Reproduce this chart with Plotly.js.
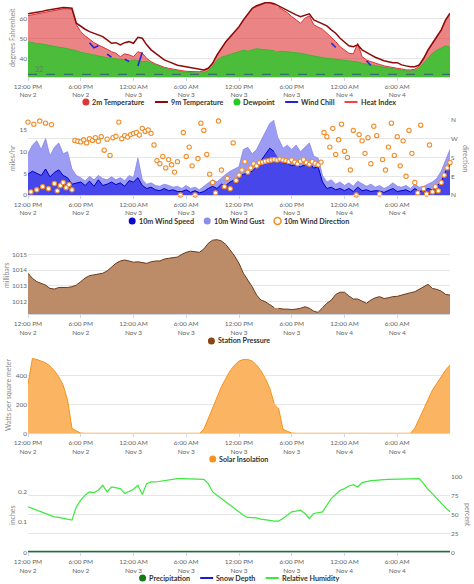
<!DOCTYPE html>
<html>
<head>
<meta charset="utf-8">
<script src="https://cdn.plot.ly/plotly-3.0.1.min.js"></script>
<style>
  html, body { margin: 0; padding: 0; background: #fff; }
  #chart { width: 474px; height: 584px; }
</style>
</head>
<body>
<div id="chart"></div>
<script>
// ---------------- Station observations, Nov 2 12:00 PM -> Nov 4 12:00 PM ----------------
// Half-hourly series (97 samples, one every 30 minutes)
const temp2m = [61.3,61.7,62.2,62.5,63.0,63.5,63.8,64.3,64.7,64.7,
  64.5,56.7,53.3,51.2,49.5,47.8,46.7,45.8,44.5,43.3,
  42.5,40.8,42.2,41.7,40.8,43.3,42.5,40.0,38.3,37.2,
  36.2,35.5,35.0,34.5,34.2,33.8,33.5,33.3,33.3,33.3,
  33.8,35.0,37.5,41.3,44.7,48.0,50.5,53.0,55.5,58.8,
  61.8,64.7,65.8,66.8,67.5,67.5,66.8,65.5,64.2,62.8,
  60.8,59.2,57.5,60.0,61.2,56.7,55.5,54.5,52.5,50.5,
  48.3,45.8,44.2,42.5,42.2,47.5,40.8,39.2,38.3,37.5,
  36.7,36.2,35.8,35.3,35.0,34.7,34.2,34.2,34.5,36.2,
  39.5,43.8,47.2,50.5,53.8,58.8,62.0];

const temp9m = [62.2,62.5,62.8,63.3,63.8,64.2,64.7,65.0,65.3,65.2,
  65.0,57.5,55.8,54.5,53.3,52.5,51.7,50.8,49.2,47.5,
  47.8,46.7,47.8,48.3,47.5,50.5,50.0,46.7,44.2,42.5,
  40.5,39.2,38.3,37.2,36.5,36.2,35.8,35.5,35.2,34.7,
  34.2,35.0,37.5,41.7,45.0,48.3,50.8,53.3,55.8,59.2,
  62.2,65.0,66.2,67.2,67.8,67.8,67.2,66.2,65.0,64.2,
  62.8,61.7,60.8,61.7,62.2,59.2,58.3,57.5,56.2,54.2,
  52.5,50.0,48.3,46.2,45.8,46.7,44.2,42.8,41.7,40.5,
  39.5,38.8,38.3,37.8,37.8,36.7,36.2,35.8,35.8,36.7,
  40.0,44.2,47.5,50.8,54.2,59.2,62.5];

const dewpoint = [48.3,47.8,47.3,47.2,46.7,46.3,46.0,45.5,45.2,44.8,
  44.5,43.8,43.0,42.5,42.0,41.5,41.0,40.8,40.3,40.0,
  39.7,39.3,39.2,38.5,39.2,38.8,38.3,38.5,37.6,36.6,
  35.7,35.0,34.5,34.0,33.6,33.3,33.0,32.8,32.7,32.6,
  32.8,33.8,36.0,39.0,40.5,41.2,42.0,42.8,43.5,44.0,
  43.5,44.2,44.8,44.5,44.3,44.0,43.8,43.5,43.5,43.3,
  43.0,42.8,42.5,42.0,41.5,41.0,40.8,40.3,40.0,39.7,
  39.5,39.2,39.0,38.7,38.5,38.2,37.5,37.0,36.7,36.3,
  35.9,35.5,35.1,34.7,34.4,34.1,33.7,33.6,33.8,35.0,
  37.5,40.5,42.5,44.0,45.3,46.2,45.5];

const windChill = [null,null,null,null,null,null,null,null,null,null,
  null,null,null,null,47.8,45.2,46.3,null,42.0,40.6,
  null,null,39.6,38.4,null,36.2,43.0,null,null,null,
  null,null,null,null,null,null,null,null,null,null,
  null,null,null,null,null,null,null,null,null,null,
  null,null,null,null,null,null,null,null,null,null,
  null,null,null,null,null,null,null,null,null,47.6,
  45.4,null,null,null,null,null,null,38.8,36.4,null,
  null,null,null,null,null,null,null,null,null,null,
  null,null,null,null,null,null,null];

const heatIndex = [];

const windGust = [9.5,11.5,12.5,10.5,13.0,9.0,11.0,12.0,9.5,10.0,
  6.0,4.5,4.0,3.2,4.3,3.5,4.5,3.8,3.5,4.2,
  3.5,4.0,3.3,4.5,4.0,8.5,3.5,2.5,2.8,2.2,
  2.0,2.5,2.2,1.8,2.0,1.5,2.2,1.5,1.8,1.2,
  2.0,2.8,3.5,3.0,4.0,4.8,5.5,6.0,6.5,10.5,
  11.0,9.5,10.5,12.5,14.5,16.5,17.3,13.0,10.8,11.5,
  10.5,11.5,10.0,11.0,12.0,9.0,8.5,4.5,3.0,3.5,
  2.5,3.0,2.2,2.8,2.0,3.2,2.5,2.0,2.5,1.8,
  2.2,1.5,2.0,2.8,2.0,1.8,2.2,1.5,2.5,1.8,
  2.0,2.5,3.0,3.8,5.5,8.0,10.5];

const windSpeed = [4.8,5.5,5.0,4.5,6.0,4.2,5.2,5.8,4.5,4.0,
  2.5,2.8,3.0,2.2,3.2,2.0,3.5,2.2,2.5,3.0,
  2.4,2.8,2.0,3.3,3.0,4.0,2.2,1.5,1.8,1.2,
  1.0,1.5,1.0,1.2,0.8,0.8,1.2,0.6,1.0,0.5,
  0.8,1.5,2.0,1.5,2.5,2.2,3.0,3.5,4.2,4.8,
  5.0,5.5,6.5,8.0,9.5,10.8,10.0,8.5,7.5,7.2,
  6.8,7.0,6.5,7.0,7.5,6.2,6.5,3.0,1.5,1.8,
  1.2,1.5,1.0,1.5,0.8,1.8,1.0,1.2,0.8,1.0,
  0.9,0.6,1.0,1.5,0.8,1.0,1.2,0.7,1.5,0.8,
  1.2,1.5,1.2,2.0,3.0,5.5,7.0];

const pressure = [1013.80,1013.48,1013.27,1013.16,1013.05,1012.84,1012.80,1012.90,1012.90,1012.90,
  1012.95,1013.05,1013.27,1013.50,1013.65,1013.70,1013.73,1013.80,1013.95,1014.20,
  1014.43,1014.58,1014.64,1014.58,1014.50,1014.53,1014.50,1014.43,1014.53,1014.58,
  1014.58,1014.70,1014.75,1014.80,1014.83,1015.00,1015.13,1015.20,1015.17,1015.13,
  1015.34,1015.70,1015.90,1015.93,1015.85,1015.63,1015.27,1014.90,1014.43,1013.80,
  1013.37,1012.95,1012.42,1012.10,1012.00,1011.80,1011.62,1011.58,1011.53,1011.53,
  1011.50,1011.53,1011.58,1011.68,1011.58,1011.40,1011.32,1011.62,1011.90,1012.10,
  1012.46,1012.60,1012.60,1012.36,1012.17,1012.17,1012.04,1011.90,1012.10,1012.25,
  1012.32,1012.20,1012.25,1012.32,1012.34,1012.42,1012.53,1012.57,1012.63,1012.78,
  1012.95,1013.10,1012.84,1012.78,1012.67,1012.46,1012.42];

const solar = [340,520,513,504,490,467,435,393,335,231,
  35,16,2,0,0,0,0,0,0,0,
  0,0,0,0,0,0,0,0,0,0,
  0,0,0,0,0,0,0,0,0,0,
  28,104,185,254,324,381,435,474,502,513,
  513,502,474,435,381,312,208,175,28,14,
  2,0,0,0,0,0,0,0,0,0,
  0,0,0,0,0,0,0,0,0,0,
  0,0,0,0,0,0,0,0,35,104,
  173,231,300,347,393,439,474];

const humidity = [60.4,58.1,55.9,53.7,51.5,49.3,47.1,46.3,44.9,44.0,
  42.7,60.4,69.2,75.8,80.2,79.3,82.4,89.0,80.2,86.8,
  85.5,84.6,78.0,81.1,83.7,89.0,76.7,91.2,93.4,93.4,
  94.3,95.6,96.9,96.9,97.8,97.8,97.8,97.8,97.8,97.8,
  96.9,91.2,80.2,75.8,71.4,66.1,61.7,57.3,53.7,49.3,
  46.3,45.8,45.8,44.0,43.6,42.3,41.4,41.4,44.9,49.3,
  53.7,54.6,55.9,51.5,44.9,51.5,52.9,53.7,62.6,71.4,
  76.7,82.4,84.6,88.1,89.9,86.8,92.5,94.3,95.2,95.6,
  96.5,96.5,96.9,96.9,97.4,97.8,97.8,97.8,97.8,97.8,
  91.2,83.7,78.0,71.4,66.1,59.0,53.7];

// Wind direction, one reading every 20 minutes (degrees from north)
const windDirection = [350,15,340,25,355,40,345,30,338,55,20,45,60,35,50,25,
  262,258,255,265,250,270,262,275,258,280,215,268,190,275,282,350,270,285,278,290,
  295,300,288,320,305,312,296,
  240,165,150,185,130,170,145,110,160,0,300,185,230,140,0,175,345,310,195,100,
  60,10,355,120,40,80,30,250,70,95,120,160,110,130,150,140,155,158,162,165,
  168,170,168,172,168,165,160,168,158,150,162,170,155,148,160,152,145,158,
  300,280,230,320,195,265,340,210,180,120,310,0,290,260,200,275,150,330,285,5,
  170,120,230,345,190,280,140,260,90,310,200,60,10,335,30,5,240,15,40,20,
  60,95,130,155];

// Six-hourly precipitation totals and snow depth (none recorded)
const precipitation = [0,0,0,0,0,0,0,0,0];
const snowDepth = [null,null,null,null,null,null,null,null,null];

// Missing-data time (sensor outage) and freezing reference
const GAP_TIME = '2024-11-03 16:20';
const FREEZING = 32;

// Axis ticks
const TEMP_TICKS = [40, 50, 60];
const SPEED_TICKS = [0, 5, 10, 15];
const DIR_TICKS = [0, 90, 180, 270, 360];
const DIR_LABELS = ['N', 'E', 'S', 'W', 'N'];
const PRESSURE_TICKS = [1012, 1013, 1014, 1015];
const SOLAR_TICKS = [0, 200, 400];
const PRECIP_TICKS = [0, 0.1, 0.2];
const RH_TICKS = [0, 25, 50, 75, 100];

// ---------------- time helpers ----------------
const T0 = Date.UTC(2024, 10, 2, 12, 0);
function stamp(ms) { return new Date(ms).toISOString().slice(0, 16).replace('T', ' '); }
function timesFor(n, stepMin) {
  return Array.from({ length: n }, (_, i) => stamp(T0 + i * stepMin * 60000));
}
const RANGE = [stamp(T0), stamp(T0 + 48 * 3600000)];
const TICK_TIMES = timesFor(8, 360);

// half-hourly series, optionally broken at the outage
function halfHourly(values, broken) {
  const x = timesFor(values.length, 30);
  const y = values.slice();
  if (broken) {
    const k = x.findIndex(t => t > GAP_TIME);
    x.splice(k, 0, GAP_TIME);
    y.splice(k, 0, null);
  }
  return { x, y };
}

// ---------------- colours ----------------
const C = {
  temp: '#dd3333', tempFill: 'rgba(221,51,51,0.6)', tempKey: '#e03535',
  temp9: '#8b0b0b',
  dew: '#3fb52f', dewFill: '#4bbd3b', dewKey: '#22cc22',
  chill: '#2323e0', heat: '#ff4040',
  speed: '#0000c8', speedFill: '#4646ea', speedKey: '#0a0acc',
  gust: '#8585ee', gustFill: '#9c9cf2', gustKey: '#8c8cee',
  dir: '#f28c28',
  pres: '#6b3a1a', presFill: '#bc8c69', presKey: '#8b4513',
  sun: '#f5931f', sunFill: '#fbb462', sunKey: '#f7941d',
  precip: '#177a17', snow: '#1a1adb', rh: '#3de83d',
  grid: '#e6e6e6', axis: '#ccd6eb', tick: '#666666', title: '#8a8a8a'
};

// ---------------- geometry (pixels) ----------------
const W = 474, H = 584, PL = 28, PR = 450;
const PANELS = [[2, 77], [120, 195], [237, 314.3], [356, 433.3], [477, 552.3]];
const fx = p => p / W;
const fy = p => 1 - p / H;
const dom = i => [fy(PANELS[i][1]), fy(PANELS[i][0])];

const FONT = 'Lato, "Open Sans", sans-serif';
const tickFont = { family: FONT, size: 6.5, color: C.tick };

function xAxis(anchor, extra) {
  return Object.assign({
    type: 'date', range: RANGE, domain: [fx(PL), fx(PR)], anchor,
    tickmode: 'array', tickvals: TICK_TIMES, tickformat: '%-I:%M %p<br>%b %-d',
    tickfont: tickFont, showline: true, linecolor: C.axis, linewidth: 1,
    ticks: 'outside', ticklen: 3, tickcolor: C.axis, showgrid: false,
    zeroline: false, fixedrange: true
  }, extra || {});
}
function yAxis(extra) {
  return Object.assign({
    tickfont: tickFont, gridcolor: C.grid, gridwidth: 1, zeroline: false,
    showline: false, ticks: '', fixedrange: true, tickmode: 'array'
  }, extra);
}

// ---------------- traces ----------------
const t2 = halfHourly(temp2m, true);
const t9 = halfHourly(temp9m, false);
const dp = halfHourly(dewpoint, true);
const wc = halfHourly(windChill, false);
const gs = halfHourly(windGust, true);
const sp = halfHourly(windSpeed, true);
const pr = halfHourly(pressure, true);
const sl = halfHourly(solar, true);
const rh = halfHourly(humidity, false);

const line = (color, width) => ({ color, width, shape: 'linear' });

const traces = [
  // Panel 1: temperatures
  { name: '2m Temperature', x: t2.x, y: t2.y, xaxis: 'x', yaxis: 'y', type: 'scatter', mode: 'lines',
    fill: 'tozeroy', fillcolor: C.tempFill, line: line(C.temp, 1), connectgaps: false },
  { name: 'Dewpoint', x: dp.x, y: dp.y, xaxis: 'x', yaxis: 'y', type: 'scatter', mode: 'lines',
    fill: 'tozeroy', fillcolor: C.dewFill, line: line(C.dew, 1), connectgaps: false },
  { name: '9m Temperature', x: t9.x, y: t9.y, xaxis: 'x', yaxis: 'y', type: 'scatter', mode: 'lines',
    line: line(C.temp9, 1.5) },
  { name: 'Wind Chill', x: wc.x, y: wc.y, xaxis: 'x', yaxis: 'y', type: 'scatter', mode: 'lines',
    line: line(C.chill, 1.6), connectgaps: false },
  { name: 'Heat Index', x: timesFor(heatIndex.length, 30), y: heatIndex, xaxis: 'x', yaxis: 'y',
    type: 'scatter', mode: 'lines', line: line(C.heat, 1.5) },

  // Panel 2: wind
  { name: '10m Wind Gust', x: gs.x, y: gs.y, xaxis: 'x2', yaxis: 'y2', type: 'scatter', mode: 'lines',
    fill: 'tozeroy', fillcolor: C.gustFill, line: line(C.gust, 0.8), connectgaps: false },
  { name: '10m Wind Speed', x: sp.x, y: sp.y, xaxis: 'x2', yaxis: 'y2', type: 'scatter', mode: 'lines',
    fill: 'tozeroy', fillcolor: C.speedFill, line: line(C.speed, 1), connectgaps: false },
  { name: '10m Wind Direction', x: timesFor(windDirection.length, 20), y: windDirection,
    xaxis: 'x2', yaxis: 'y3', type: 'scatter', mode: 'markers', cliponaxis: false,
    marker: { symbol: 'circle', size: 4.3, color: '#ffffff', line: { color: C.dir, width: 1.1 } } },

  // Panel 3: pressure
  { name: 'Station Pressure', x: pr.x, y: pr.y, xaxis: 'x3', yaxis: 'y4', type: 'scatter', mode: 'lines',
    fill: 'tozeroy', fillcolor: C.presFill, line: line(C.pres, 1), connectgaps: false },

  // Panel 4: solar radiation
  { name: 'Solar Insolation', x: sl.x, y: sl.y, xaxis: 'x4', yaxis: 'y5', type: 'scatter', mode: 'lines',
    fill: 'tozeroy', fillcolor: C.sunFill, line: line(C.sun, 1), connectgaps: false },

  // Panel 5: precipitation, snow, humidity
  { name: 'Relative Humidity', x: rh.x, y: rh.y, xaxis: 'x5', yaxis: 'y7', type: 'scatter', mode: 'lines',
    line: line(C.rh, 1.2) },
  { name: 'Precipitation', x: timesFor(precipitation.length, 360), y: precipitation, xaxis: 'x5', yaxis: 'y6',
    type: 'scatter', mode: 'lines', line: line(C.precip, 3.2) },
  { name: 'Snow Depth', x: timesFor(snowDepth.length, 360), y: snowDepth, xaxis: 'x5', yaxis: 'y6',
    type: 'scatter', mode: 'lines', line: line(C.snow, 1.5) }
];

// ---------------- legends (drawn as text + symbols under each panel) ----------------
const legendRows = [
  { y: 102, items: [['2m Temperature', 'dot', C.tempKey], ['9m Temperature', 'line', C.temp9],
    ['Dewpoint', 'dot', C.dewKey], ['Wind Chill', 'line', C.chill], ['Heat Index', 'line', C.heat]] },
  { y: 221, items: [['10m Wind Speed', 'dot', C.speedKey], ['10m Wind Gust', 'dot', C.gustKey],
    ['10m Wind Direction', 'ring', C.dir]] },
  { y: 341, items: [['Station Pressure', 'dot', C.presKey]] },
  { y: 459, items: [['Solar Insolation', 'dot', C.sunKey]] },
  { y: 578, items: [['Precipitation', 'dot', C.precip], ['Snow Depth', 'line', C.snow],
    ['Relative Humidity', 'line', C.rh]] }
];
const LEG_SIZE = 7.2, DOT = 7, LINE_W = 13, SYM_GAP = 3, ITEM_GAP = 10;
const measureCtx = document.createElement('canvas').getContext('2d');
measureCtx.font = 'bold ' + LEG_SIZE + 'px Lato';

const shapes = [];
const annotations = [];

legendRows.forEach(row => {
  const widths = row.items.map(([label, kind]) => {
    const sym = kind === 'line' ? LINE_W : DOT;
    return { sym, text: measureCtx.measureText(label).width };
  });
  const total = widths.reduce((s, w) => s + w.sym + SYM_GAP + w.text, 0) + ITEM_GAP * (row.items.length - 1);
  let x = (PL + PR) / 2 - total / 2;
  row.items.forEach(([label, kind, color], i) => {
    const w = widths[i];
    const cy = row.y;
    if (kind === 'line') {
      shapes.push({ type: 'line', xref: 'paper', yref: 'paper', x0: fx(x), x1: fx(x + w.sym),
        y0: fy(cy), y1: fy(cy), line: { color, width: 2 } });
    } else {
      const r = DOT / 2;
      shapes.push({ type: 'circle', xref: 'paper', yref: 'paper',
        x0: fx(x), x1: fx(x + DOT), y0: fy(cy + r), y1: fy(cy - r),
        fillcolor: kind === 'ring' ? '#ffffff' : color,
        line: { color, width: kind === 'ring' ? 1.5 : 0 } });
    }
    x += w.sym + SYM_GAP;
    annotations.push({ text: label, xref: 'paper', yref: 'paper', x: fx(x), y: fy(cy),
      xanchor: 'left', yanchor: 'middle', showarrow: false, borderpad: 0, borderwidth: 0,
      font: { family: FONT, size: LEG_SIZE, color: '#333333', weight: 'bold' } });
    x += w.text + ITEM_GAP;
  });
});

// axis titles
const titleFont = { family: FONT, size: 7, color: C.title };
[['degrees Fahrenheit', 12, 38, -90], ['miles/hr', 12, 158, -90], ['direction', 466, 158, 90],
 ['millibars', 6, 276, -90], ['Watts per square meter', 8, 395, -90],
 ['inches', 12, 515, -90], ['percent', 468, 515, 90]].forEach(([text, px, py, ang]) => {
  annotations.push({ text, xref: 'paper', yref: 'paper', x: fx(px), y: fy(py), xanchor: 'center',
    yanchor: 'middle', textangle: ang, showarrow: false, font: titleFont });
});

// freezing line and its label
shapes.push({ type: 'line', xref: 'x domain', yref: 'y', x0: 0, x1: 1, y0: FREEZING, y1: FREEZING,
  line: { color: '#2f5a80', width: 1, dash: 'dash' } });
annotations.push({ text: String(FREEZING), xref: 'paper', yref: 'y', x: fx(34), y: FREEZING,
  xanchor: 'left', yanchor: 'bottom', showarrow: false, borderpad: 0,
  font: { family: FONT, size: 7, color: '#5f7f66' } });

// ---------------- layout ----------------
const layout = {
  width: W, height: H, margin: { l: 0, r: 0, t: 0, b: 0 },
  paper_bgcolor: '#ffffff', plot_bgcolor: 'rgba(0,0,0,0)', showlegend: false,
  font: { family: FONT, size: 7, color: C.tick },
  xaxis: xAxis('y'), xaxis2: xAxis('y2'), xaxis3: xAxis('y4'), xaxis4: xAxis('y5'),
  xaxis5: xAxis('y6', { layer: 'below traces' }),
  yaxis: yAxis({ domain: dom(0), anchor: 'x', range: [30.65, 68.1], tickvals: TEMP_TICKS }),
  yaxis2: yAxis({ domain: dom(1), anchor: 'x2', range: [0, 17.3], tickvals: SPEED_TICKS, showgrid: false }),
  yaxis3: yAxis({ overlaying: 'y2', anchor: 'x2', side: 'right', range: [0, 360],
    tickvals: DIR_TICKS, ticktext: DIR_LABELS, showgrid: true }),
  yaxis4: yAxis({ domain: dom(2), anchor: 'x3', range: [1011.2, 1016.1], tickvals: PRESSURE_TICKS }),
  yaxis5: yAxis({ domain: dom(3), anchor: 'x4', range: [0, 537], tickvals: SOLAR_TICKS }),
  yaxis6: yAxis({ domain: dom(4), anchor: 'x5', range: [0, 0.25], tickvals: PRECIP_TICKS, showgrid: false }),
  yaxis7: yAxis({ overlaying: 'y6', anchor: 'x5', side: 'right', range: [0, 100],
    tickvals: RH_TICKS, showgrid: true }),
  shapes, annotations
};

Plotly.newPlot('chart', traces, layout, { displayModeBar: false, staticPlot: true, responsive: false });
</script>
</body>
</html>
